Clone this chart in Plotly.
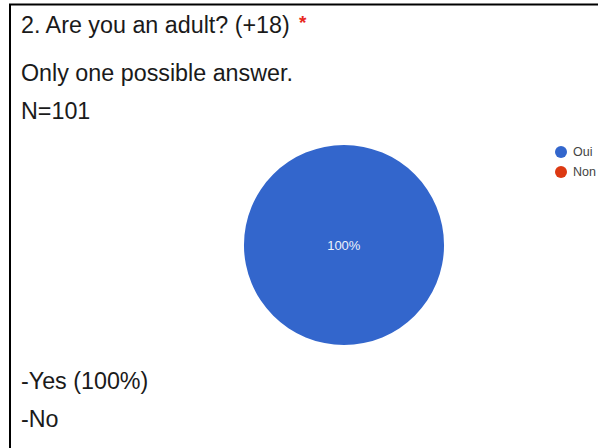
import plotly.graph_objects as go

# Survey answers
labels = ["Oui", "Non"]
counts = [101, 0]
colors = ["#3366cc", "#dc3912"]

question = "2. Are you an adult? (+18)"
subtitle = "Only one possible answer."
sample = "N=101"
answers = ["-Yes (100%)", "-No"]

W, H = 598, 448
FONT = "Liberation Sans, Arial, sans-serif"
BODY = dict(size=23.3, color="#1a1a1a", family=FONT)


def px(x):
    return x / W


def py(y):
    return 1 - y / H


fig = go.Figure()
fig.add_trace(go.Pie(
    labels=labels,
    values=counts,
    marker=dict(colors=colors, line=dict(width=0)),
    sort=False,
    direction="clockwise",
    textinfo="percent",
    textposition="inside",
    insidetextfont=dict(color="#eef2fb", size=13, family=FONT),
    showlegend=False,
    domain=dict(x=[px(244), px(444)], y=[py(345), py(145)]),
    hoverinfo="label+percent",
))

shapes = [
    # frame: top and left rules
    dict(type="line", xref="paper", yref="paper", x0=px(9), x1=1.0, y0=py(4.5), y1=py(4.5),
         line=dict(color="#000000", width=2)),
    dict(type="line", xref="paper", yref="paper", x0=px(10), x1=px(10), y0=py(4), y1=0,
         line=dict(color="#000000", width=2)),
]
annotations = []

# legend entries
for i, (lab, col) in enumerate(zip(labels, colors)):
    cy = 152 + 20 * i
    shapes.append(dict(type="circle", xref="paper", yref="paper",
                       x0=px(555), x1=px(567), y0=py(cy + 6), y1=py(cy - 6),
                       fillcolor=col, line=dict(width=0)))
    annotations.append(dict(text=lab, xref="paper", yref="paper", x=px(571), y=py(cy),
                            xanchor="left", yanchor="middle", showarrow=False,
                            font=dict(size=12.5, color="#444444", family=FONT)))


def text_line(txt, y):
    annotations.append(dict(text=txt, xref="paper", yref="paper", x=px(19), y=py(y),
                            xanchor="left", yanchor="middle", showarrow=False, font=BODY))


# header text
text_line(question, 25)
annotations.append(dict(text="<b>*</b>", xref="paper", yref="paper", x=px(297), y=py(23),
                        xanchor="left", yanchor="middle", showarrow=False,
                        font=dict(size=19, color="#e8281e", family=FONT)))
text_line(subtitle, 73)
text_line(sample, 111)
for i, a in enumerate(answers):
    text_line(a, 381 + 38 * i)

fig.update_layout(
    width=W, height=H,
    margin=dict(l=0, r=0, t=0, b=0),
    paper_bgcolor="#ffffff",
    plot_bgcolor="#ffffff",
    shapes=shapes,
    annotations=annotations,
    showlegend=False,
)

fig.write_html("out.html")
